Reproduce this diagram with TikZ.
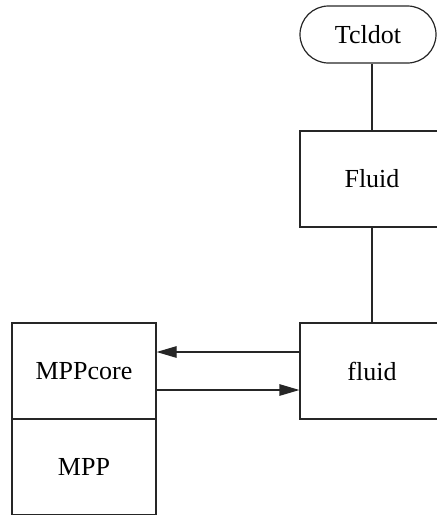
\documentclass[tikz,border=0pt]{standalone}
\usepackage{fontspec}
\setmainfont{Liberation Serif}
\newfontfamily\labelfont{Liberation Serif}
\usetikzlibrary{arrows.meta}
\begin{document}
\begin{tikzpicture}[x=1pt,y=-1pt,
  every node/.style={font=\labelfont\fontsize{26}{30}\selectfont},
  box/.style={draw=black!85, line width=1.2pt, minimum width=144pt, minimum height=96pt, inner sep=0pt},
  term/.style={draw=black!85, line width=1.2pt, minimum width=136pt, minimum height=57pt, rounded corners=28.5pt, inner sep=0pt},
  link/.style={draw=black!85, line width=1.2pt},
  flow/.style={link, -{Triangle[length=20pt,width=11.5pt]}}]
\useasboundingbox (0,0) rectangle (437,515);
\node[term] (tcl) at (368,34.5) {Tcldot};
\node[box] (Fl) at (372,179) {Fluid};
\node[box] (fl) at (372,371) {fluid};
\node[box] (core) at (84,371) {MPPcore};
\node[box] (mpp) at (84,467) {MPP};
\draw[link] (Fl.north) -- (Fl.north |- tcl.south);
\draw[link] (fl.north) -- (Fl.south);
\draw[flow] ([yshift=19pt]fl.west) -- ([yshift=19pt]fl.west -| core.east);
\draw[flow] ([yshift=-19pt]core.east) -- ([yshift=-19pt]core.east -| fl.west);
\end{tikzpicture}
\end{document}
